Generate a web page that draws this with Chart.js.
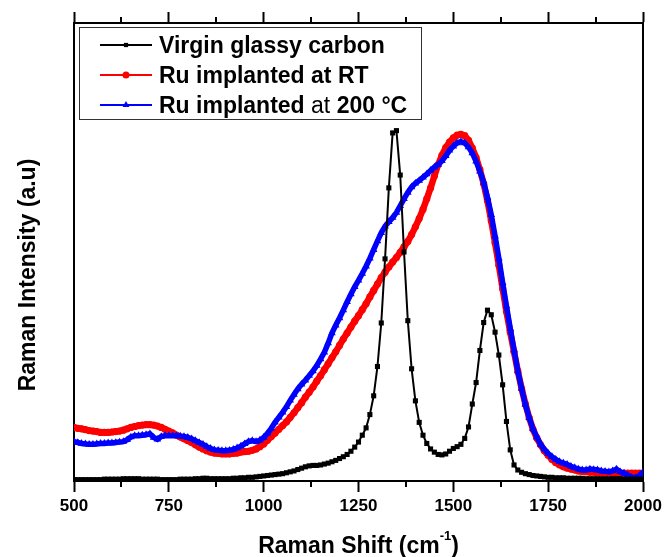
<!DOCTYPE html>
<html>
<head>
<meta charset="utf-8">
<script src="https://cdn.jsdelivr.net/npm/chart.js@4.4.1/dist/chart.umd.min.js"></script>
<style>
  html, body { margin: 0; padding: 0; background: #fff; }
  canvas { display: block; }
</style>
</head>
<body>
<canvas id="raman" width="666" height="557"></canvas>
<script>
// Raman shift axis (cm-1), one sample every 10 cm-1
const SHIFT = [
  500, 510, 520, 530, 540, 550, 560, 570, 580, 590,
  600, 610, 620, 630, 640, 650, 660, 670, 680, 690,
  700, 710, 720, 730, 740, 750, 760, 770, 780, 790,
  800, 810, 820, 830, 840, 850, 860, 870, 880, 890,
  900, 910, 920, 930, 940, 950, 960, 970, 980, 990,
  1000, 1010, 1020, 1030, 1040, 1050, 1060, 1070, 1080, 1090,
  1100, 1110, 1120, 1130, 1140, 1150, 1160, 1170, 1180, 1190,
  1200, 1210, 1220, 1230, 1240, 1250, 1260, 1270, 1280, 1290,
  1300, 1310, 1320, 1330, 1340, 1350, 1360, 1370, 1380, 1390,
  1400, 1410, 1420, 1430, 1440, 1450, 1460, 1470, 1480, 1490,
  1500, 1510, 1520, 1530, 1540, 1550, 1560, 1570, 1580, 1590,
  1600, 1610, 1620, 1630, 1640, 1650, 1660, 1670, 1680, 1690,
  1700, 1710, 1720, 1730, 1740, 1750, 1760, 1770, 1780, 1790,
  1800, 1810, 1820, 1830, 1840, 1850, 1860, 1870, 1880, 1890,
  1900, 1910, 1920, 1930, 1940, 1950, 1960, 1970, 1980, 1990,
  2000
];

// Intensities (arbitrary units)
const VIRGIN = [
  0.3, 0.3, 0.3, 0.3, 0.3, 0.3, 0.3, 0.3, 0.4, 0.4,
  0.4, 0.4, 0.4, 0.5, 0.5, 0.5, 0.5, 0.5, 0.4, 0.4,
  0.4, 0.4, 0.4, 0.3, 0.3, 0.3, 0.3, 0.3, 0.4, 0.4,
  0.4, 0.4, 0.5, 0.5, 0.6, 0.6, 0.5, 0.5, 0.5, 0.5,
  0.5, 0.5, 0.6, 0.6, 0.7, 0.7, 0.8, 0.8, 0.9, 1.0,
  1.1, 1.2, 1.3, 1.4, 1.5, 1.6, 1.8, 2.0, 2.2, 2.5,
  2.8, 3.1, 3.3, 3.4, 3.4, 3.5, 3.7, 3.9, 4.2, 4.5,
  4.9, 5.3, 5.8, 6.5, 7.4, 8.5, 10.0, 11.6, 14.5, 18.6,
  25.0, 34.5, 48.5, 64.0, 76.0, 76.5, 66.8, 50.0, 35.0, 24.5,
  17.5, 12.8, 10.0, 8.2, 7.0, 6.3, 5.8, 5.7, 5.9, 6.5,
  7.1, 7.5, 8.0, 9.3, 11.8, 16.8, 21.5, 28.5, 34.6, 37.3,
  36.3, 32.5, 27.5, 21.0, 13.0, 6.8, 3.5, 2.4, 1.9, 1.6,
  1.4, 1.2, 1.1, 1.0, 0.9, 0.8, 0.8, 0.7, 0.7, 0.7,
  0.6, 0.6, 0.6, 0.6, 0.6, 0.5, 0.5, 0.5, 0.5, 0.5,
  0.5, 0.5, 0.5, 0.5, 0.5, 0.4, 0.4, 0.4, 0.4, 0.4,
  0.4
];

const RU_RT = [
  11.7, 11.5, 11.4, 11.2, 11.0, 10.9, 10.8, 10.6, 10.6, 10.6,
  10.7, 10.8, 10.9, 11.1, 11.4, 11.7, 11.9, 12.1, 12.2, 12.3,
  12.3, 12.2, 12.0, 11.7, 11.3, 10.9, 10.5, 10.0, 9.6, 9.2,
  8.8, 8.4, 7.9, 7.4, 7.0, 6.6, 6.3, 6.1, 6.0, 5.9,
  5.9, 5.9, 6.0, 6.1, 6.3, 6.4, 6.5, 6.7, 7.0, 7.5,
  8.1, 8.9, 9.7, 10.5, 11.3, 12.1, 12.9, 13.9, 14.9, 16.0,
  17.1, 18.3, 19.4, 20.5, 21.8, 23.0, 24.3, 25.6, 26.9, 28.2,
  29.6, 31.0, 32.3, 33.6, 34.9, 36.1, 37.4, 38.7, 40.2, 41.6,
  43.0, 44.4, 45.6, 46.7, 47.8, 48.8, 49.9, 51.1, 52.3, 53.8,
  55.5, 57.3, 59.3, 61.6, 64.0, 66.6, 69.1, 71.1, 72.8, 74.0,
  74.9, 75.5, 75.7, 75.4, 74.4, 72.7, 70.6, 68.0, 64.9, 61.2,
  56.8, 52.0, 47.1, 42.0, 37.0, 32.5, 28.2, 24.0, 20.2, 16.8,
  13.8, 11.3, 9.4, 7.9, 6.6, 5.6, 4.7, 4.0, 3.5, 3.1,
  2.8, 2.6, 2.4, 2.2, 2.1, 2.0, 1.9, 1.9, 1.8, 1.8,
  1.8, 1.8, 1.7, 1.7, 1.7, 1.7, 1.7, 1.7, 1.7, 1.7,
  1.7
];

const RU_200 = [
  8.6, 8.4, 8.2, 8.1, 8.0, 8.0, 8.1, 8.2, 8.2, 8.3,
  8.3, 8.4, 8.5, 8.6, 9.0, 9.6, 9.9, 9.9, 10.0, 10.1,
  10.3, 9.5, 9.1, 9.7, 9.9, 9.9, 9.9, 9.9, 9.8, 9.7,
  9.5, 9.2, 8.8, 8.4, 8.0, 7.5, 7.1, 6.8, 6.7, 6.6,
  6.6, 6.7, 6.9, 7.2, 7.6, 8.1, 8.6, 8.8, 8.6, 8.9,
  9.5, 10.4, 11.5, 12.8, 13.9, 15.0, 16.2, 17.6, 18.9, 20.1,
  21.1, 22.0, 23.0, 24.0, 25.2, 26.6, 28.1, 30.1, 32.3, 34.0,
  35.6, 37.3, 39.1, 40.8, 42.4, 43.8, 45.3, 46.9, 48.6, 50.5,
  52.4, 54.2, 55.6, 56.6, 57.5, 58.6, 60.1, 61.6, 63.0, 64.2,
  65.0, 65.6, 66.3, 67.0, 67.8, 68.5, 69.1, 69.9, 71.0, 72.2,
  73.1, 73.8, 74.1, 73.8, 72.9, 71.6, 69.8, 67.6, 65.2, 61.9,
  58.1, 53.5, 48.6, 43.3, 38.2, 33.3, 28.6, 24.0, 20.2, 16.7,
  13.8, 11.4, 9.6, 8.0, 6.9, 6.0, 5.3, 4.7, 4.2, 3.9,
  3.6, 3.2, 2.9, 2.6, 2.4, 2.4, 2.6, 2.5, 2.4, 2.2,
  2.1, 2.0, 2.2, 2.6, 2.0, 1.7, 1.3, 0.8, 0.7, 1.1,
  2.0
];

const MINOR_TICKS = [625, 875, 1125, 1375, 1625, 1875];

// legend rows: text runs with their weight
const LEGEND_TEXT = [
  [['Virgin glassy carbon', 'bold']],
  [['Ru implanted at RT', 'bold']],
  [['Ru implanted ', 'bold'], ['at', 'normal'], [' 200 \u00B0C', 'bold']],
];

const FONT = "'Liberation Sans', Arial, sans-serif";

const toPoints = ys => SHIFT.map((x, i) => ({ x, y: ys[i] }));

// frame extras: minor ticks, axis titles, legend box
const extras = {
  id: 'extras',
  afterDraw(chart) {
    const { ctx, chartArea: a, scales } = chart;
    ctx.save();

    ctx.strokeStyle = '#000';
    ctx.lineWidth = 2;
    MINOR_TICKS.forEach(v => {
      const px = Math.round(scales.x.getPixelForValue(v));
      ctx.beginPath();
      ctx.moveTo(px, a.bottom);
      ctx.lineTo(px, a.bottom + 6);
      ctx.moveTo(px, a.top);
      ctx.lineTo(px, a.top - 6);
      ctx.stroke();
    });

    // y title
    ctx.fillStyle = '#000';
    ctx.font = `bold 23px ${FONT}`;
    ctx.textAlign = 'center';
    ctx.textBaseline = 'alphabetic';
    ctx.save();
    ctx.translate(35, 275);
    ctx.rotate(-Math.PI / 2);
    ctx.fillText('Raman Intensity (a.u)', 0, 0);
    ctx.restore();

    // x title with superscript
    const main = 'Raman Shift (cm', sup = '-1', close = ')';
    ctx.textAlign = 'left';
    ctx.font = `bold 23px ${FONT}`;
    const w1 = ctx.measureText(main).width, w3 = ctx.measureText(close).width;
    ctx.font = `bold 13px ${FONT}`;
    const w2 = ctx.measureText(sup).width;
    let tx = (a.left + a.right) / 2 - (w1 + w2 + w3) / 2;
    ctx.font = `bold 23px ${FONT}`;
    ctx.fillText(main, tx, 553);
    ctx.font = `bold 13px ${FONT}`;
    ctx.fillText(sup, tx + w1, 540);
    ctx.font = `bold 23px ${FONT}`;
    ctx.fillText(close, tx + w1 + w2, 553);

    // legend
    ctx.fillStyle = '#fff';
    ctx.fillRect(80, 28, 341, 91);
    ctx.strokeStyle = '#333';
    ctx.lineWidth = 1;
    ctx.strokeRect(79.5, 27.5, 342, 92);

    const rows = [45, 75, 105];
    chart.data.datasets.forEach((ds, i) => {
      const y = rows[i];
      ctx.strokeStyle = ds.borderColor;
      ctx.lineWidth = 2;
      ctx.beginPath();
      ctx.moveTo(100, y);
      ctx.lineTo(152, y);
      ctx.stroke();
      ctx.fillStyle = ds.pointBackgroundColor;
      Chart.helpers.drawPoint(ctx, {
        pointStyle: ds.pointStyle, radius: ds.legendRadius, borderWidth: 0, rotation: 0,
      }, 126, y);

      let x = 159;
      ctx.fillStyle = '#000';
      LEGEND_TEXT[i].forEach(([txt, weight]) => {
        ctx.font = `${weight} 23px ${FONT}`;
        ctx.fillText(txt, x, y + 8);
        x += ctx.measureText(txt).width;
      });
    });

    ctx.restore();
  }
};

const axisLine = { color: '#000', width: 2 };

new Chart(document.getElementById('raman'), {
  type: 'line',
  data: {
    datasets: [
      {
        label: 'Virgin glassy carbon',
        data: toPoints(VIRGIN),
        borderColor: '#000', pointBackgroundColor: '#000', pointBorderColor: '#000',
        borderWidth: 2, pointStyle: 'rect', pointRadius: 3.6, pointBorderWidth: 0,
        legendRadius: 3, order: 0,
      },
      {
        label: 'Ru implanted at RT',
        data: toPoints(RU_RT),
        borderColor: '#ff0000', pointBackgroundColor: '#ff0000', pointBorderColor: '#ff0000',
        borderWidth: 6.5, pointStyle: 'circle', pointRadius: 3.6, pointBorderWidth: 0,
        legendRadius: 3.5, order: 2,
      },
      {
        label: 'Ru implanted at 200 \u00B0C',
        data: toPoints(RU_200),
        borderColor: '#0000ff', pointBackgroundColor: '#0000ff', pointBorderColor: '#0000ff',
        borderWidth: 5.5, pointStyle: 'triangle', pointRadius: 4.4, pointBorderWidth: 0,
        legendRadius: 4, order: 1,
      },
    ],
  },
  options: {
    responsive: false,
    animation: false,
    layout: { padding: 0 },
    plugins: {
      legend: { display: false },
      tooltip: { enabled: false },
    },
    elements: { line: { tension: 0 } },
    scales: {
      x: {
        type: 'linear', position: 'bottom', min: 500, max: 2000,
        ticks: {
          stepSize: 250, color: '#000', padding: 4, maxRotation: 0,
          font: { family: FONT, size: 17, weight: 'bold' },
          callback: v => String(v),
        },
        grid: { drawOnChartArea: false, tickLength: 11, tickColor: '#000', tickWidth: 2 },
        border: axisLine,
        afterFit: s => { s.height = 76; },
      },
      x2: {
        type: 'linear', position: 'top', min: 500, max: 2000,
        ticks: { stepSize: 250, display: false },
        grid: { drawOnChartArea: false, tickLength: 11, tickColor: '#000', tickWidth: 2 },
        border: axisLine,
        afterFit: s => { s.height = 23; },
      },
      y: {
        type: 'linear', position: 'left', min: 0, max: 100,
        ticks: { display: false },
        grid: { display: false },
        border: axisLine,
        afterFit: s => { s.width = 74; },
      },
      y2: {
        type: 'linear', position: 'right', min: 0, max: 100,
        ticks: { display: false },
        grid: { display: false },
        border: axisLine,
        afterFit: s => { s.width = 23; },
      },
    },
  },
  plugins: [extras],
});
</script>
</body>
</html>
